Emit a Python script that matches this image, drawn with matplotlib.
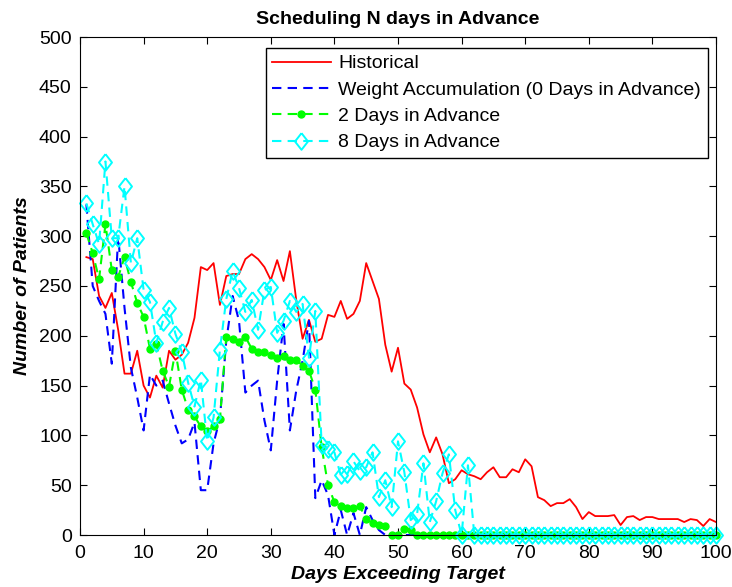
import numpy as np
import matplotlib
matplotlib.use('Agg')
from matplotlib import pyplot as plt

plt.rcParams['font.family'] = ['Liberation Sans', 'DejaVu Sans']
plt.rcParams['font.size'] = 14

days = np.arange(1, 101)

historical = [279, 277, 240, 228, 243, 206, 162, 162, 185, 150,
              138, 160, 148, 185, 176, 181, 193, 218, 269, 266,
              273, 231, 260, 262, 262, 277, 282, 277, 269, 256,
              276, 255, 285, 236, 197, 216, 194, 197, 221, 219,
              235, 217, 222, 235, 273, 255, 237, 191, 164, 188,
              152, 146, 128, 101, 83, 98, 81, 52, 56, 65,
              61, 59, 56, 63, 68, 58, 58, 66, 63, 76,
              69, 38, 35, 29, 32, 32, 36, 28, 16, 23,
              19, 19, 19, 20, 10, 18, 19, 15, 18, 18,
              16, 16, 16, 16, 13, 16, 15, 9, 16, 13]

weight_acc = [332, 250, 235, 222, 172, 300, 228, 168, 138, 105,
              161, 150, 155, 132, 110, 92, 96, 113, 45, 45,
              92, 117, 195, 240, 215, 143, 150, 155, 115, 85,
              155, 212, 105, 145, 175, 215, 37, 55, 40, 0,
              25, 0, 22, 0, 28, 15, 5, 0, 0, 2] + [0] * 50

adv2 = [303, 283, 257, 312, 266, 259, 279, 254, 233, 219,
        187, 192, 165, 149, 185, 146, 126, 119, 109, 104,
        109, 116, 199, 197, 194, 199, 187, 184, 184, 181,
        178, 180, 176, 176, 170, 165, 146, 88, 50, 33,
        29, 27, 27, 29, 16, 12, 10, 9, 0, 0,
        6, 5] + [0] * 48

adv8 = [333, 312, 292, 375, 298, 298, 350, 273, 298, 246,
        234, 193, 214, 228, 202, 184, 153, 129, 156, 94,
        118, 186, 237, 265, 248, 224, 236, 206, 246, 249,
        203, 215, 235, 224, 232, 178, 225, 90, 86, 83,
        60, 61, 74, 64, 68, 83, 38, 55, 28, 94,
        63, 15, 21, 72, 13, 34, 62, 81, 25, 0,
        70] + [0] * 39

labels = ['Historical', 'Weight Accumulation (0 Days in Advance)',
          '2 Days in Advance', '8 Days in Advance']

diamond = [(0, 1), (0.78, 0), (0, -1), (-0.78, 0), (0, 1)]
dash = (4.5, 3)

fig = plt.figure(figsize=(7.32, 5.87), dpi=100)
ax = fig.add_axes([80 / 732, 52 / 587, 636 / 732, 498 / 587])

ax.plot(days, historical, color=(1, 0, 0), lw=1.3, label=labels[0])
ax.plot(days, weight_acc, color=(0, 0, 1), lw=1.5, dashes=dash, label=labels[1])
ax.plot(days, adv2, color=(0, 1, 0), lw=1.5, dashes=dash, marker='o', ms=5,
        mec=(0, 1, 0), label=labels[2], clip_on=False)
ax.plot(days, adv8, color=(0, 1, 1), lw=1.5, dashes=dash, marker=diamond, ms=12,
        mfc='none', mew=1.4, label=labels[3], clip_on=False)

ax.set_xlim(0, 100)
ax.set_ylim(0, 500)
ax.set_xticks(range(0, 101, 10))
ax.set_yticks(range(0, 501, 50))
ax.tick_params(direction='in', length=5, width=0.8, top=True, right=True,
               labelsize=14)
ax.tick_params(axis='y', pad=6)
ax.tick_params(axis='x', pad=7)

ax.set_title('Scheduling N days in Advance', fontweight='bold', fontsize=14, pad=9)
ax.set_xlabel('Days Exceeding Target', fontweight='bold', fontstyle='italic',
              fontsize=14, labelpad=3)
ax.set_ylabel('Number of Patients', fontweight='bold', fontstyle='italic',
              fontsize=14)
ax.yaxis.set_label_coords(-0.077, 0.5)

leg = ax.legend(loc='upper right', bbox_to_anchor=(0.9874, 0.978),
                borderaxespad=0, fancybox=False, framealpha=1,
                edgecolor='black', handlelength=3.0, handletextpad=0.4,
                borderpad=0.35, labelspacing=0.45, fontsize=14)
leg.get_frame().set_linewidth(1.0)

plt.savefig('out.png', dpi=100)
